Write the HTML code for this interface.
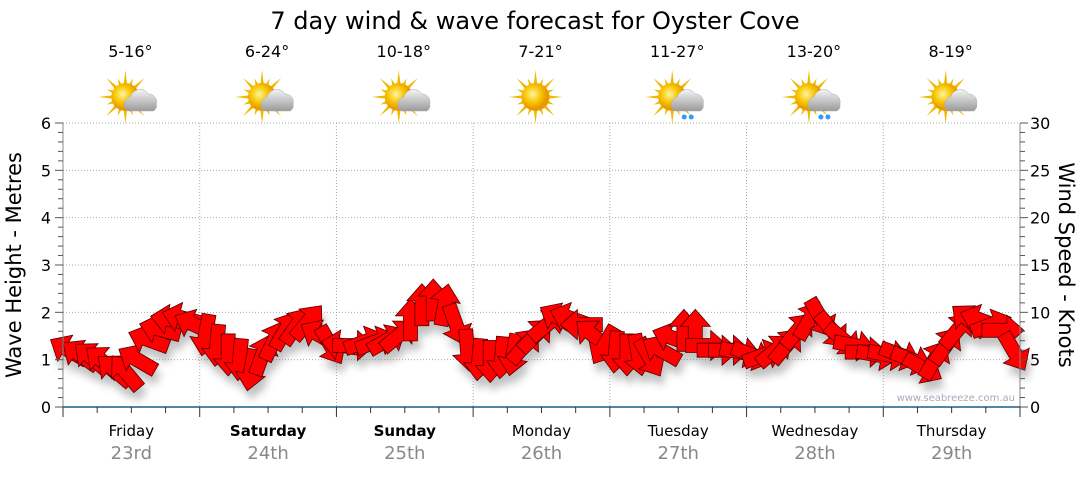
<!DOCTYPE html>
<html><head><meta charset="utf-8"><style>
body{margin:0;background:#fff;width:1080px;height:475px;overflow:hidden;font-family:"Liberation Sans",sans-serif}
svg text{font-family:"DejaVu Sans","Liberation Sans",sans-serif}
</style></head><body>
<svg id="c" width="1080" height="475">
<defs>
<filter id="sh" x="-50%" y="-50%" width="200%" height="200%"><feGaussianBlur stdDeviation="4"/></filter>
<radialGradient id="sun" cx="40%" cy="40%"><stop offset="0" stop-color="#fff3a0"/><stop offset="0.6" stop-color="#f7c600"/><stop offset="1" stop-color="#e89a00"/></radialGradient>
<linearGradient id="cl" x1="0" y1="0" x2="0" y2="1"><stop offset="0" stop-color="#f4f4f4"/><stop offset="1" stop-color="#9a9a9a"/></linearGradient>
</defs>
<g id="grid"></g><g id="marks"></g><g id="axes"></g>
</svg>
<script>
const days=["Friday","Saturday","Sunday","Monday","Tuesday","Wednesday","Thursday"];
const dates=["23rd","24th","25th","26th","27th","28th","29th"];
const temps=["5-16°","6-24°","10-18°","7-21°","11-27°","13-20°","8-19°"];
const icons=["cloud","cloud","cloud","sun","rain","rain","cloud"];
const waveTicks=[0,1,2,3,4,5,6];
const windTicks=[0,5,10,15,20,25,30];
const windSpeed=[6.0,5.5,5.2,4.8,3.9,3.7,5.0,7.1,8.2,9.2,9.4,8.7,
7.6,6.5,5.5,5.0,3.9,5.5,7.0,8.1,8.6,9.0,7.6,6.5,
6.5,6.5,6.9,6.9,7.1,7.6,9.2,10.8,11.3,10.8,8.7,6.0,
5.0,4.8,5.2,5.5,6.5,7.6,8.7,9.4,9.4,8.7,7.6,6.5,
5.8,5.5,5.5,5.2,6.0,7.3,8.1,8.1,6.5,6.0,6.0,5.8,
5.5,5.5,6.0,6.5,8.1,9.2,9.4,8.1,7.1,6.5,5.8,5.5,
5.5,5.5,5.0,4.1,5.0,6.5,8.1,9.2,9.2,8.7,8.1,5.8];
const windDir=[-150,-145,-140,-140,-140,-130,-150,-160,-165,-170,-165,-155,
100,95,90,95,100,-70,-65,-60,-55,-50,-150,60,
-170,0,-20,-20,-30,-40,-90,-90,-90,-80,70,85,
95,90,95,100,-50,-45,-40,-150,-160,180,-140,120,
95,90,80,60,-150,-160,-90,-90,0,0,0,10,
20,-20,-40,-50,-50,-60,60,50,40,10,0,10,
10,20,20,30,-60,-55,-50,-140,-160,-20,0,60];
const X0=63,X1=1020,Y0=407,Y1=123,DW=(X1-X0)/7;
const yW=v=>Y0-(Y0-Y1)*v/6, yK=v=>Y0-(Y0-Y1)*v/30, xT=i=>X0+(i+0.5)*DW/12;
const NS="http://www.w3.org/2000/svg";
function mk(t,a,p,txt){const e=document.createElementNS(NS,t);for(const k in a)e.setAttribute(k,a[k]);if(txt!==undefined)e.textContent=txt;p.appendChild(e);return e;}
const svg=document.getElementById('c'),G=document.getElementById('grid'),M=document.getElementById('marks'),A=document.getElementById('axes');
let t=mk('text',{x:535,y:29,'font-size':24,'text-anchor':'middle',fill:'#000'},svg,"7 day wind & wave forecast for Oyster Cove");


waveTicks.forEach(v=>{if(v>0){const l=mk('line',{x1:X0,x2:X1,y1:yW(v),y2:yW(v),stroke:'#aaa','stroke-dasharray':'1,2'},G);

}});
for(let d=1;d<7;d++){const l=mk('line',{x1:X0+d*DW,x2:X0+d*DW,y1:Y1,y2:Y0,stroke:'#aaa','stroke-dasharray':'1,2'},G);

}
mk('line',{x1:X0,x2:X0,y1:Y1,y2:Y0,stroke:'#888'},A);
mk('line',{x1:X1,x2:X1,y1:Y1,y2:Y0,stroke:'#888'},A);
mk('line',{x1:X0,x2:X1,y1:Y0,y2:Y0,stroke:'#1a5a8a','stroke-width':1.5},A);
for(let v=0;v<=30;v++){const y=yW(v/5),maj=v%5==0;
mk('line',{x1:X0-(maj?8:5),x2:X0,y1:y,y2:y,stroke:'#555'},A);
mk('line',{x1:X1,x2:X1+(maj?8:5),y1:y,y2:y,stroke:'#555'},A);}
waveTicks.forEach(v=>{const e=mk('text',{x:51,y:yW(v)+6,'font-size':16,'text-anchor':'end'},A,v);

});
windTicks.forEach(v=>{const e=mk('text',{x:1030,y:yK(v)+6,'font-size':16},A,v);

});
for(let i=0;i<=28;i++){const x=X0+i*DW/4;mk('line',{x1:x,x2:x,y1:Y0,y2:Y0+(i%4==0?10:6),stroke:'#333'},A);}
t=mk('text',{x:0,y:0,'font-size':21,'text-anchor':'middle',transform:'translate(21,265) rotate(-90)'},A,"Wave Height - Metres");


t=mk('text',{x:0,y:0,'font-size':21,'text-anchor':'middle',transform:'translate(1059,265) rotate(90)'},A,"Wind Speed - Knots");


t=mk('text',{x:1015,y:401,'font-size':10,'text-anchor':'end',fill:'#aab'},A,"www.seabreeze.com.au");


days.forEach((d,i)=>{const cx=X0+(i+0.5)*DW;
let e=mk('text',{x:cx,y:436,'font-size':15,'text-anchor':'middle','font-weight':(i==1||i==2)?'bold':'normal'},A,d);


e=mk('text',{x:cx,y:459,'font-size':18,'text-anchor':'middle',fill:'#888'},A,dates[i]);


e=mk('text',{x:cx-1,y:57,'font-size':16,'text-anchor':'middle'},svg,temps[i]);


const g=mk('g',{transform:`translate(${cx-6},97)`},svg);


for(let r=0;r<16;r++){const a=r*Math.PI/8,L=r%2?20:27;mk('polygon',{points:`${Math.cos(a)*L},${Math.sin(a)*L} ${Math.cos(a+0.15)*12},${Math.sin(a+0.15)*12} ${Math.cos(a-0.15)*12},${Math.sin(a-0.15)*12}`,fill:'#f2b800'},g);}
mk('circle',{cx:0,cy:0,r:14,fill:'url(#sun)'},g);
if(icons[i]!='sun'){mk('path',{d:'M2,14 a8,8 0 0 1 3,-14 a10,10 0 0 1 18,-3 a8,8 0 0 1 8,10 a6,6 0 0 1 -3,7 z',fill:'url(#cl)',stroke:'#aaa','stroke-width':0.5},g);}
if(icons[i]=='rain'){mk('circle',{cx:12,cy:20,r:2.5,fill:'#39f'},g);mk('circle',{cx:19,cy:20,r:2.5,fill:'#39f'},g);}
});
const arrowPath='M-21,-7 L4,-7 L4,-15 L21,0 L4,15 L4,7 L-21,7 Z';
const sh=mk('g',{filter:'url(#sh)',opacity:0.45},M);
windSpeed.forEach((k,i)=>{mk('path',{d:arrowPath,fill:'#777',transform:`translate(${xT(i)+3},${yK(k)+9}) rotate(${windDir[i]})`},sh);});
windSpeed.forEach((k,i)=>{const p=mk('path',{d:arrowPath,fill:'#ff0000',stroke:'#500','stroke-width':0.8,transform:`translate(${xT(i)},${yK(k)}) rotate(${windDir[i]})`},M);

});
</script>
</body></html>
